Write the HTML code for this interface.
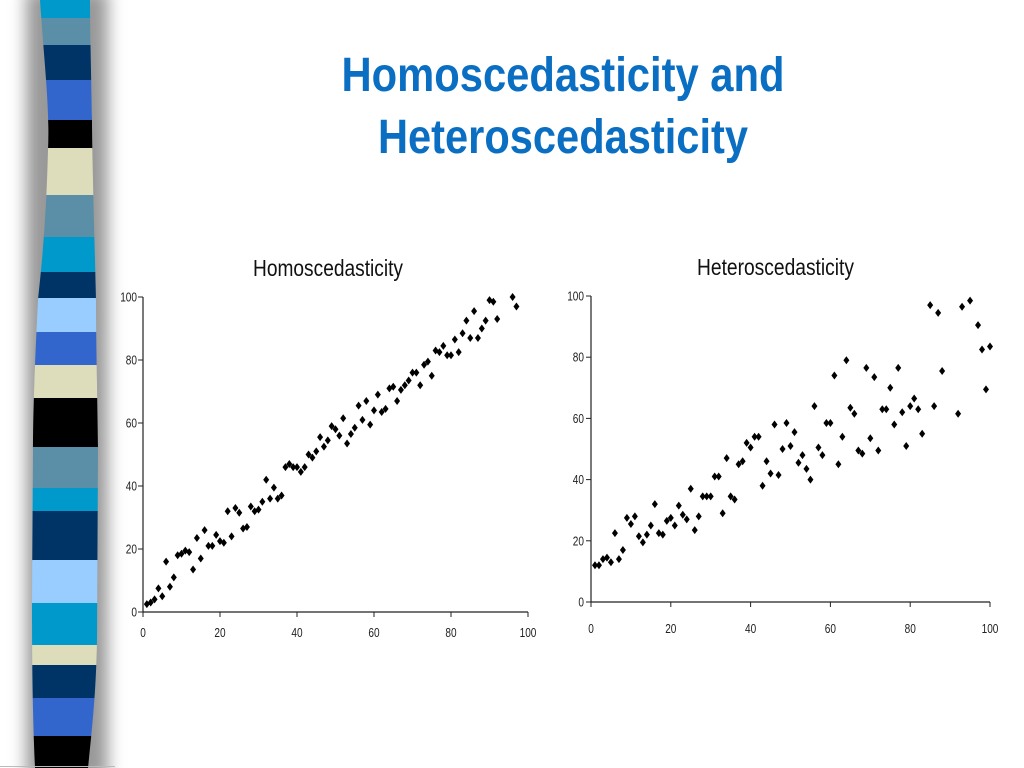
<!DOCTYPE html>
<html><head><meta charset="utf-8"><style>
html,body{margin:0;padding:0;background:#fff;}
svg{display:block;}
</style></head><body>
<svg id="s" width="1024" height="768" xmlns="http://www.w3.org/2000/svg">
<defs>
<filter id="blur" x="-50%" y="-10%" width="200%" height="120%"><feGaussianBlur stdDeviation="8"/></filter>
<clipPath id="bar"><path d="M40,0 C44,60 50,110 48,150 C46,230 40,280 38,300 C34,380 33,420 33,450 L32,600 C32,680 33,720 35,768 L88,768 C93,720 96,690 97,640 L98,450 C97,380 96,330 96,300 C94,220 92,150 92,120 C91,60 90,30 90,0 Z"/></clipPath>
</defs>
<rect x="0" y="0" width="1024" height="768" fill="#fff"/>
<rect x="26" y="-10" width="82" height="790" fill="#999" filter="url(#blur)"/>
<g clip-path="url(#bar)" id="stripes"></g>
<line x1="0" y1="766.5" x2="115" y2="766.5" stroke="#bbb" stroke-width="1"/>
<g font-family="Liberation Sans, Arial, sans-serif" font-weight="bold" fill="#0A6EC2" font-size="48" text-anchor="middle">
<text x="563" y="91" textLength="443" lengthAdjust="spacingAndGlyphs">Homoscedasticity and</text>
<text x="563" y="153" textLength="370" lengthAdjust="spacingAndGlyphs">Heteroscedasticity</text>
</g>
<g font-family="Liberation Sans, Arial, sans-serif" fill="#111" font-size="23">
<text x="253" y="276" textLength="150" lengthAdjust="spacingAndGlyphs">Homoscedasticity</text>
<text x="697" y="275" textLength="157" lengthAdjust="spacingAndGlyphs">Heteroscedasticity</text>
</g>
<g id="c1"></g><g id="c2"></g>
</svg>
<script>
var NS="http://www.w3.org/2000/svg";
function el(p,t,a,txt){var e=document.createElementNS(NS,t);for(var k in a)e.setAttribute(k,a[k]);if(txt!==undefined)e.textContent=txt;p.appendChild(e);return e;}
var st=document.getElementById('stripes');
var C={cy:'#0099CC',sb:'#5B8FA8',nv:'#003366',ro:'#3366CC',bk:'#000',be:'#DDDDBB',lb:'#99CCFF'};
var S=[[0,18,'cy'],[18,45,'sb'],[45,80,'nv'],[80,120,'ro'],[120,148,'bk'],[148,195,'be'],[195,237,'sb'],[237,272,'cy'],[272,298,'nv'],[298,332,'lb'],[332,365,'ro'],[365,398,'be'],[398,447,'bk'],[447,488,'sb'],[488,511,'cy'],[511,560,'nv'],[560,603,'lb'],[603,645,'cy'],[645,665,'be'],[665,698,'nv'],[698,736,'ro'],[736,768,'bk']];
S.forEach(function(s){el(st,'rect',{x:20,y:s[0],width:90,height:s[1]-s[0]+0.5,fill:C[s[2]]});});
function chart(g,x0,y0,x1,y1,ylx,xly,data){
 g=document.getElementById(g);
 var sx=function(v){return x0+(x1-x0)*v/100}, sy=function(v){return y0-(y0-y1)*v/100};
 el(g,'line',{x1:x0,y1:y1,x2:x0,y2:y0,stroke:'#222','stroke-width':1.2});
 el(g,'line',{x1:x0,y1:y0,x2:x1,y2:y0,stroke:'#222','stroke-width':1.2});
 for(var v=0;v<=100;v+=20){
  var s=''+v, w=s.length*5.6;
  el(g,'line',{x1:x0-5,y1:sy(v),x2:x0,y2:sy(v),stroke:'#222'});
  el(g,'line',{x1:sx(v),y1:y0,x2:sx(v),y2:y0+5,stroke:'#222'});
  el(g,'text',{x:ylx,y:sy(v)+4.5,'text-anchor':'end','font-size':13,'font-family':'Liberation Sans, Arial, sans-serif',fill:'#222',textLength:w,lengthAdjust:'spacingAndGlyphs'},s);
  el(g,'text',{x:sx(v),y:xly,'text-anchor':'middle','font-size':13,'font-family':'Liberation Sans, Arial, sans-serif',fill:'#222',textLength:w,lengthAdjust:'spacingAndGlyphs'},s);
 }
 data.forEach(function(p){var x=sx(p[0]),y=sy(p[1]);
  el(g,'path',{d:'M'+x+','+(y-4)+'L'+(x+3)+','+y+'L'+x+','+(y+4)+'L'+(x-3)+','+y+'Z',fill:'#000'});});
}
var d1=[[1,2.5],[2,3],[3,4],[4,7.5],[5,5],[6,16],[7,8],[8,11],[9,18],[10,18.5],[11,19.5],[12,19],[13,13.5],[14,23.5],[15,17],[16,26],[17,21],[18,21],[19,24.5],[20,22.5],[21,22],[22,32],[23,24],[24,33],[25,31.5],[26,26.5],[27,27],[28,33.5],[29,32],[30,32.5],[31,35],[32,42],[33,36],[34,39.5],[35,36],[36,37],[37,46],[38,47],[39,46],[40,46],[41,44.5],[42,46],[43,50],[44,49],[45,51],[46,55.5],[47,52.5],[48,54.5],[49,59],[50,58],[51,56],[52,61.5],[53,53.5],[54,56.5],[55,58.5],[56,65.5],[57,61],[58,67],[59,59.5],[60,64],[61,69],[62,63.5],[63,64.5],[64,71],[65,71.5],[66,67],[67,70.5],[68,72],[69,73.5],[70,76],[71,76],[72,72],[73,78.5],[74,79.5],[75,75],[76,83],[77,82.5],[78,84.5],[79,81.5],[80,81.5],[81,86.5],[82,82.5],[83,88.5],[84,92.5],[85,87],[86,95.5],[87,87],[88,90],[89,92.5],[90,99],[91,98.5],[92,93],[96,100],[97,97]];
var d2=[[1,12],[2,12],[3,14],[4,14.5],[5,13],[6,22.5],[7,14],[8,17],[9,27.5],[10,25.5],[11,28],[12,21.5],[13,19.5],[14,22],[15,25],[16,32],[17,22.5],[18,22],[19,26.5],[20,27.5],[21,25],[22,31.5],[23,28.5],[24,27],[25,37],[26,23.5],[27,28],[28,34.5],[29,34.5],[30,34.5],[31,41],[32,41],[33,29],[34,47],[35,34.5],[36,33.5],[37,45],[38,46],[39,52],[40,50.5],[41,54],[42,54],[43,38],[44,46],[45,42],[46,58],[47,41.5],[48,50],[49,58.5],[50,51],[51,55.5],[52,45.5],[53,48],[54,43.5],[55,40],[56,64],[57,50.5],[58,48],[59,58.5],[60,58.5],[61,74],[62,45],[63,54],[64,79],[65,63.5],[66,61.5],[67,49.5],[68,48.5],[69,76.5],[70,53.5],[71,73.5],[72,49.5],[73,63],[74,63],[75,70],[76,58],[77,76.5],[78,62],[79,51],[80,64],[81,66.5],[82,63],[83,55],[85,97],[86,64],[87,94.5],[88,75.5],[92,61.5],[93,96.5],[95,98.5],[97,90.5],[98,82.5],[99,69.5],[100,83.5]];
chart('c1',143,612,528,297,137,637,d1);
chart('c2',591,602,990,296,584,633,d2);
</script>
</body></html>
